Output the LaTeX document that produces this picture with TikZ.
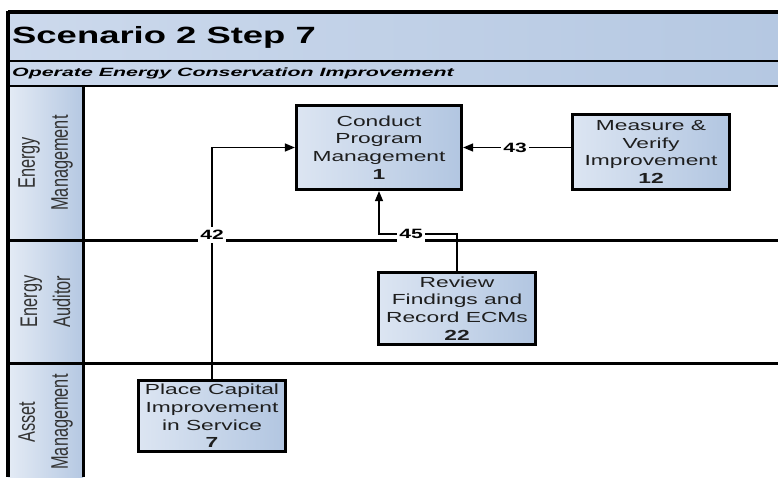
\documentclass[tikz,border=0pt]{standalone}
\usepackage{fontspec}
\setmainfont{Liberation Sans}
\newfontfamily\titlefont{Liberation Sans}[FakeStretch=1.55]
\newfontfamily\subfont{Liberation Sans}[FakeStretch=1.78]
\newfontfamily\boxfont{Liberation Sans}[FakeStretch=1.56]
\newfontfamily\lanefont{Liberation Sans}[FakeStretch=0.68]
\usetikzlibrary{arrows.meta}
\definecolor{hdrlight}{HTML}{CCD9EC}
\definecolor{hdrdark}{HTML}{B5C8E2}
\definecolor{boxlight}{HTML}{DCE5F2}
\definecolor{boxdark}{HTML}{B2C6E1}
\definecolor{lanelight}{HTML}{E4EBF5}
\definecolor{lanedark}{HTML}{B5C8E2}
\definecolor{txtgray}{HTML}{1E1E1E}
\definecolor{lanetxt}{HTML}{333333}
\tikzset{
  procbox/.style={draw=black, line width=3.2pt, left color=boxlight, right color=boxdark,
    align=center, inner sep=0pt, text=txtgray,
    font=\boxfont\fontsize{14.6}{17.7}\selectfont},
  lanelabel/.style={rotate=90, align=center, inner sep=0pt, text=lanetxt,
    font=\lanefont\fontsize{24}{33}\selectfont},
  conn/.style={draw=black, line width=1.4pt, -{Triangle[length=10pt,width=8pt]}},
  flowlbl/.style={fill=white, inner xsep=2pt, inner ysep=3pt,
    font=\boxfont\bfseries\fontsize{13.5}{13.5}\selectfont},
  laneline/.style={draw=black, line width=3pt}
}
\begin{document}
\begin{tikzpicture}[x=1pt,y=-1pt]
\useasboundingbox (0,0) rectangle (778,477);
% header bars
\shade[left color=hdrlight, right color=hdrdark] (8,12) rectangle (778,61);
\shade[left color=hdrlight, right color=hdrdark] (8,61) rectangle (778,86);
% lane headers
\shade[left color=lanelight, right color=lanedark] (8,86) rectangle (83,240);
\shade[left color=lanelight, right color=lanedark] (8,240) rectangle (83,363);
\shade[left color=lanelight, right color=lanedark] (8,363) rectangle (83,477);
% lines
\draw[line width=3.5pt] (8,12) -- (778,12);
\draw[line width=2.5pt] (8,61) -- (778,61);
\draw[line width=2.5pt] (8,86) -- (778,86);
\draw[laneline] (8,240) -- (778,240);
\draw[laneline] (8,363) -- (778,363);
\draw[laneline] (83,86) -- (83,477);
\draw[line width=3.5pt] (8,10.5) -- (8,477);
% titles
\node[anchor=west, inner sep=0pt, font=\titlefont\bfseries\fontsize{23.5}{28}\selectfont] (title) at (12,37) {Scenario 2 Step 7};
\node[anchor=west, inner sep=0pt, font=\subfont\bfseries\itshape\fontsize{12}{14}\selectfont] (subtitle) at (12,73) {Operate Energy Conservation Improvement};
% lane labels
\node[lanelabel] (lane1) at (45.5,163) {Energy\\Management};
\node[lanelabel] (lane2) at (45.5,301.5) {Energy\\Auditor};
\node[lanelabel] (lane3) at (45.5,422) {Asset\\Management};
% process boxes
\node[procbox, minimum width=165pt, minimum height=84pt] (conduct) at (379,147.5) {Conduct\\Program\\Management\\\textbf{1}};
\node[procbox, minimum width=157pt, minimum height=75pt] (measure) at (651,152) {Measure \&\\Verify\\Improvement\\\textbf{12}};
\node[procbox, minimum width=157pt, minimum height=72pt] (review) at (457,308.5) {Review\\Findings and\\Record ECMs\\\textbf{22}};
\node[procbox, minimum width=147pt, minimum height=71pt] (place) at (212,416) {Place Capital\\Improvement\\in Service\\\textbf{7}};
% connectors
\draw[conn] (place.north) |- (conduct.west);
\draw[conn] (measure.west |- conduct.east) -- (conduct.east);
\coordinate (k45) at (457,234);
\draw[conn] (review.north) -- (k45) -| (conduct.south);
% connector labels
\node[flowlbl] (l42) at (212,235) {42};
\node[flowlbl] (l43) at (515,148) {43};
\node[flowlbl] (l45) at (411,234) {45};
\end{tikzpicture}
\end{document}
